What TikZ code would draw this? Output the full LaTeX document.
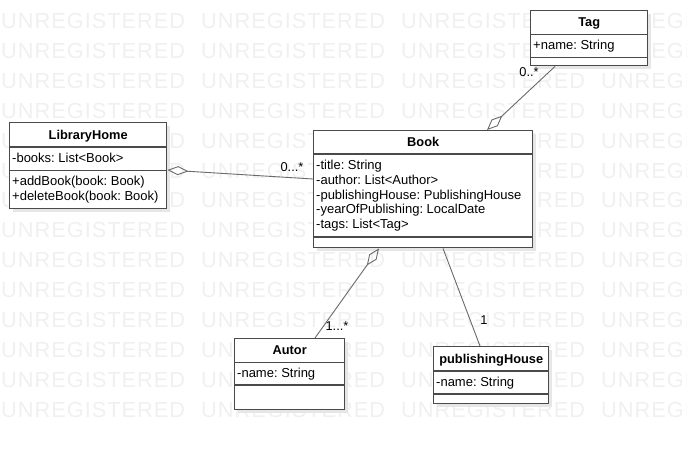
\documentclass[tikz,border=0pt]{standalone}
\usepackage{fontspec}
\setmainfont{Liberation Sans}
\newfontfamily\wmfont[LetterSpace=4.5]{Liberation Sans}
\frenchspacing
\usetikzlibrary{calc,arrows.meta,shadows}
\definecolor{boxgray}{HTML}{4A4A4A}
\definecolor{linegray}{HTML}{6A6A6A}
\definecolor{shadowgray}{HTML}{E6E6E6}
\definecolor{wmgray}{HTML}{F0F0F0}
\tikzset{
  classbox/.style={draw=boxgray,line width=1.4pt,fill=white,anchor=north west,inner sep=0,
                   drop shadow={shadow xshift=3.5pt,shadow yshift=-3.5pt,fill=shadowgray,opacity=1}},
  compsep/.style={draw=boxgray,line width=1.4pt},
  classname/.style={font=\fontsize{12.8}{14.8}\selectfont\bfseries,text height=9.2pt,text depth=0pt,inner sep=0},
  % attribute and operation compartments
  members/.style={font=\fontsize{13}{14.8}\selectfont,align=left,anchor=north west,inner sep=0},
  assoc/.style={draw=linegray,line width=0.9pt},
  aggr/.style={assoc,{Diamond[open,length=21pt,width=9pt,line width=0.9pt]}-},
  mult/.style={font=\fontsize{12.8}{14.8}\selectfont,inner sep=0},
  watermark/.style={font=\wmfont\fontsize{21.8}{21.8}\selectfont,text=wmgray,anchor=base west,inner sep=0},
}
\begin{document}
\begin{tikzpicture}[x=1pt,y=1pt]
  \useasboundingbox (0,0) rectangle (687,-450);
  \clip (0,0) rectangle (687,-450);
  % background watermark
  \foreach \r in {0,...,13} {
    \foreach \c in {0,...,3} {
      \node[watermark] (wm-\r-\c) at ({1+200*\c},{-28.5-29.9*\r}) {UNREGISTERED};
    }
  }
  % LibraryHome
  \node[classbox,minimum width=157pt,minimum height=86pt] (home) at (9,-122) {};
  \draw[compsep] ($(home.north west)+(0,-25)$) -- ($(home.north east)+(0,-25)$);
  \draw[compsep] ($(home.north west)+(0,-48.5)$) -- ($(home.north east)+(0,-48.5)$);
  \node[classname] (homeT) at ($(home.north)+(0,-12.5)$) {LibraryHome};
  \node[members] (homeA) at ($(home.north west)+(3,-30.8)$) {-books: List<Book>};
  \node[members] (homeO) at ($(home.north west)+(3,-54.3)$) {+addBook(book: Book)\\+deleteBook(book: Book)};
  % Book
  \node[classbox,minimum width=219pt,minimum height=117pt] (book) at (313,-130) {};
  \draw[compsep] ($(book.north west)+(0,-24)$) -- ($(book.north east)+(0,-24)$);
  \draw[compsep] ($(book.north west)+(0,-107)$) -- ($(book.north east)+(0,-107)$);
  \node[classname] (bookT) at ($(book.north)+(0,-12)$) {Book};
  \node[members] (bookA) at ($(book.north west)+(3,-29.8)$) {-title: String\\-author: List<Author>\\-publishingHouse: PublishingHouse\\-yearOfPublishing: LocalDate\\-tags: List<Tag>};
  % Tag
  \node[classbox,minimum width=117pt,minimum height=55pt] (tag) at (530,-10) {};
  \draw[compsep] ($(tag.north west)+(0,-24.3)$) -- ($(tag.north east)+(0,-24.3)$);
  \draw[compsep] ($(tag.north west)+(0,-47.3)$) -- ($(tag.north east)+(0,-47.3)$);
  \node[classname] (tagT) at ($(tag.north)+(0,-12.3)$) {Tag};
  \node[members] (tagA) at ($(tag.north west)+(3,-30.1)$) {+name: String};
  % Autor
  \node[classbox,minimum width=110pt,minimum height=71pt] (autor) at (234,-338) {};
  \draw[compsep] ($(autor.north west)+(0,-24.5)$) -- ($(autor.north east)+(0,-24.5)$);
  \draw[compsep] ($(autor.north west)+(0,-47)$) -- ($(autor.north east)+(0,-47)$);
  \node[classname] (autorT) at ($(autor.north)+(0,-12.3)$) {Autor};
  \node[members] (autorA) at ($(autor.north west)+(3,-30.3)$) {-name: String};
  % publishingHouse
  \node[classbox,minimum width=115pt,minimum height=57pt] (pubhouse) at (433,-346) {};
  \draw[compsep] ($(pubhouse.north west)+(0,-25)$) -- ($(pubhouse.north east)+(0,-25)$);
  \draw[compsep] ($(pubhouse.north west)+(0,-48)$) -- ($(pubhouse.north east)+(0,-48)$);
  \node[classname] (pubhouseT) at ($(pubhouse.north)+(0,-12.5)$) {publishingHouse};
  \node[members] (pubhouseA) at ($(pubhouse.north west)+(3,-30.8)$) {-name: String};
  % associations
  \draw[aggr] ($(home.north east)+(0,-48)$) -- ($(book.north west)+(0,-49)$);
  \draw[aggr] ($(book.north west)+(174,0)$) -- ($(tag.south west)+(25,0)$);
  \draw[aggr] ($(book.south west)+(66,0)$) -- ($(autor.north west)+(81,0)$);
  \draw[assoc] ($(book.south west)+(130,0)$) -- ($(pubhouse.north west)+(47,0)$);
  \node[mult] (homeM) at (292,-167) {0...*};
  \node[mult] (tagM) at (529,-72) {0..*};
  \node[mult] (autorM) at (337,-326) {1...*};
  \node[mult] (pubhouseM) at (484,-320) {1};
\end{tikzpicture}
\end{document}
